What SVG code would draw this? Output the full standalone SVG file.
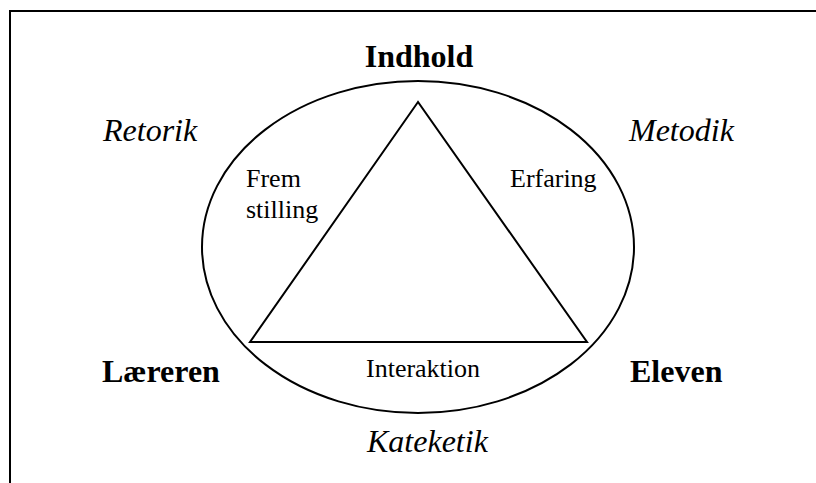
<svg xmlns="http://www.w3.org/2000/svg" width="816" height="483" viewBox="0 0 816 483">
  <style>
    .ln { fill: none; stroke: #000; stroke-width: 2; }
    .t { font-family: "Liberation Serif", "Times New Roman", serif; fill: #000; }
    .b { font-size: 32px; font-weight: bold; }
    .i { font-size: 32px; font-style: italic; }
    .r { font-size: 26px; }
  </style>
  <rect width="816" height="483" fill="#fff"/>
  <!-- frame: top and left edges -->
  <path class="ln" d="M10 483 V11 H816"/>

  <g id="connectors">
    <ellipse class="ln" cx="418" cy="247" rx="216" ry="166"/>
    <polygon class="ln" points="418,102 250,342 587,342"/>
  </g>

  <g id="indhold"><text class="t b" x="419" y="67" text-anchor="middle">Indhold</text></g>
  <g id="laereren"><text class="t b" x="102" y="382">Læreren</text></g>
  <g id="eleven"><text class="t b" x="630" y="382">Eleven</text></g>

  <g id="retorik"><text class="t i" x="103" y="141">Retorik</text></g>
  <g id="metodik"><text class="t i" x="629" y="141">Metodik</text></g>
  <g id="kateketik"><text class="t i" x="367" y="452">Kateketik</text></g>

  <g id="fremstilling">
    <text class="t r" x="246" y="187">Frem</text>
    <text class="t r" x="246" y="218">stilling</text>
  </g>
  <g id="erfaring"><text class="t r" x="510" y="187">Erfaring</text></g>
  <g id="interaktion"><text class="t r" x="366" y="377">Interaktion</text></g>
</svg>
